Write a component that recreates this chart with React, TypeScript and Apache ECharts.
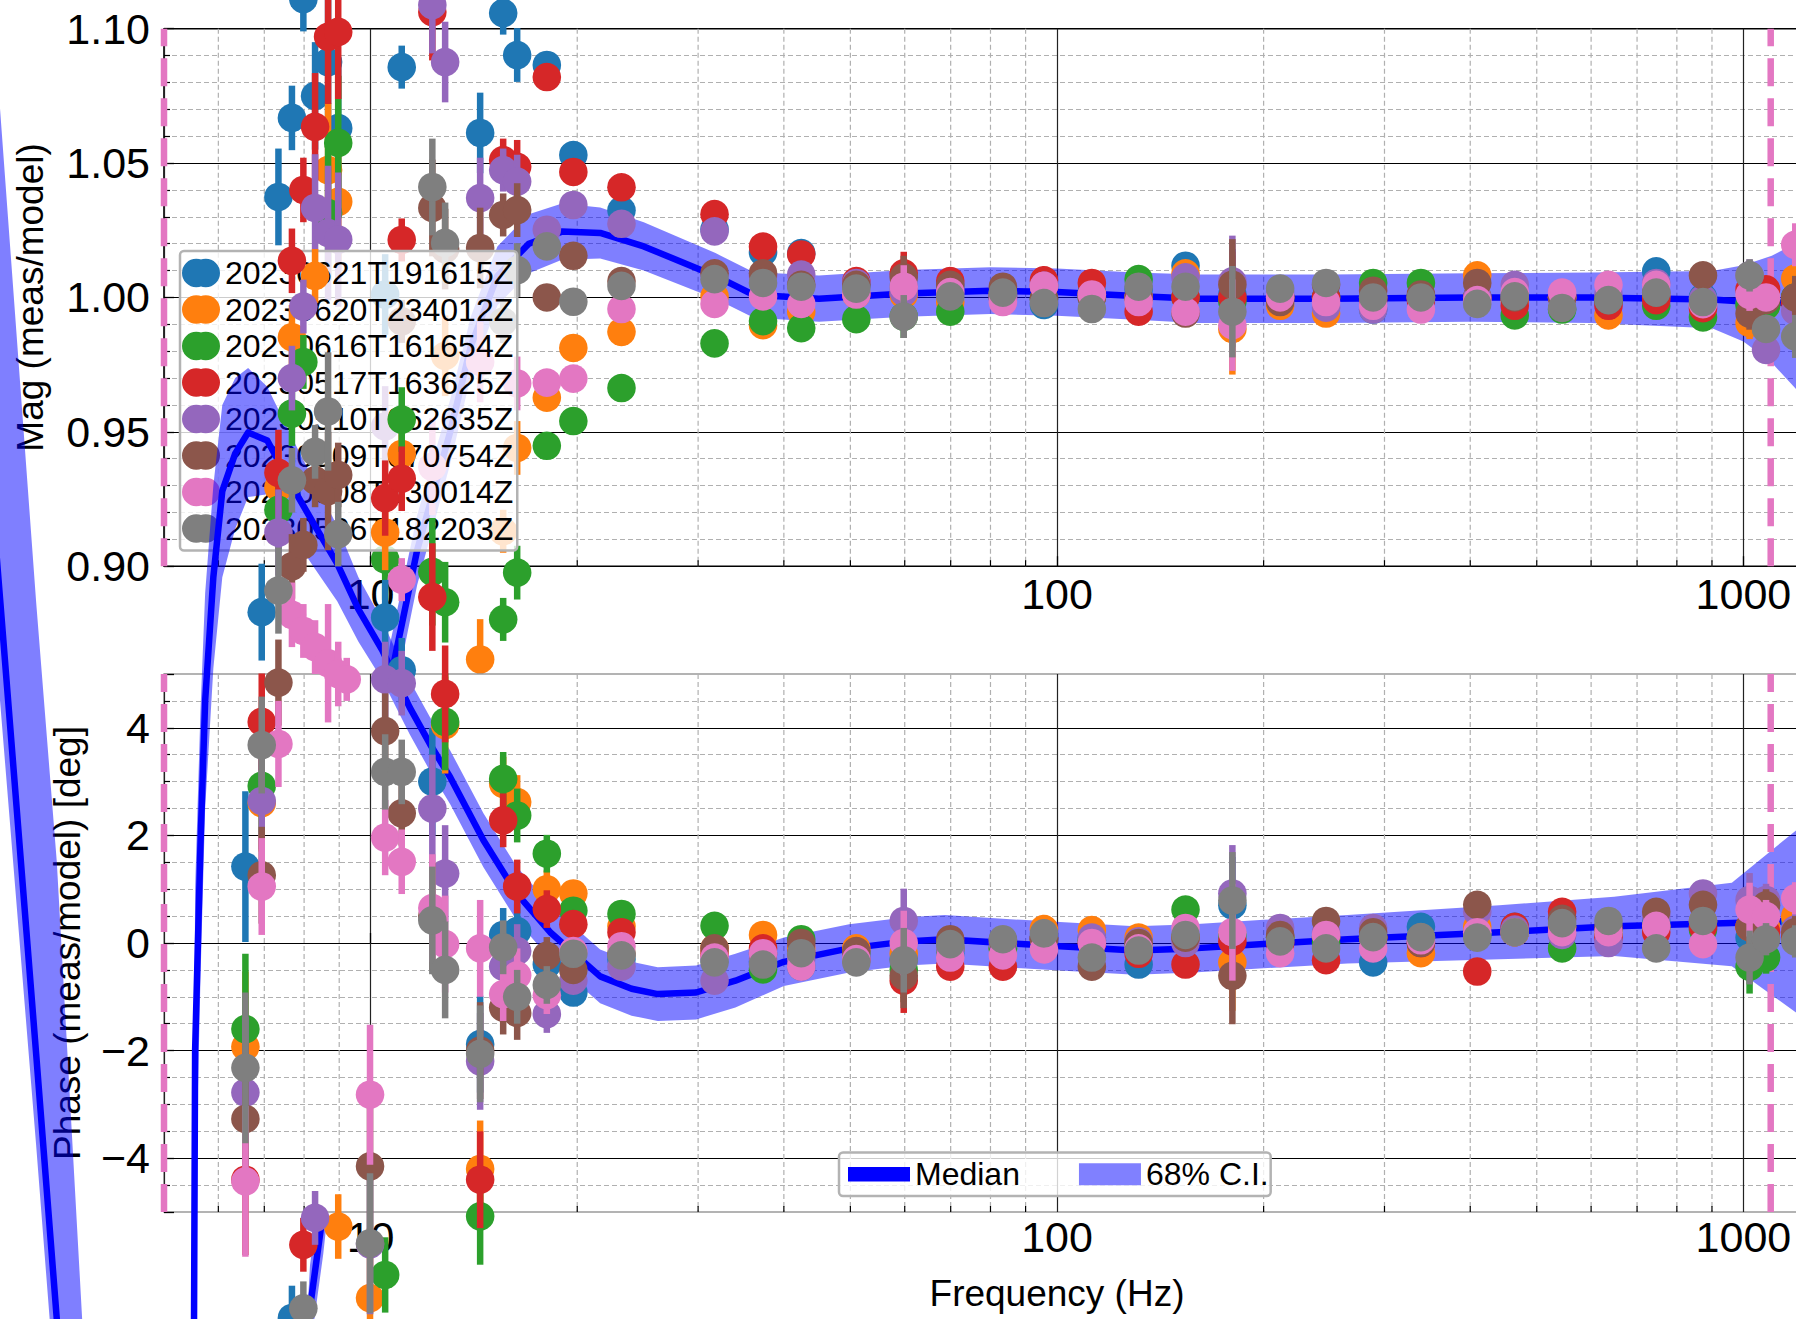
import React, { useEffect, useRef } from 'react';
import * as echarts from 'echarts';

// ---------- data ----------
const NAMES = [
  '20230621T191615Z', '20230620T234012Z', '20230616T161654Z', '20230517T163625Z',
  '20230510T062635Z', '20230509T070754Z', '20230508T130014Z', '20230506T182203Z',
];
const COLORS = ['#1f77b4', '#ff7f0e', '#2ca02c', '#d62728', '#9467bd', '#8c564b', '#e377c2', '#7f7f7f'];

// measurement frequencies (Hz)
const FREQ = [6.57, 6.94, 7.34, 7.68, 7.98, 8.30, 8.67, 8.97, 9.23, 9.98,
  10.5, 11.1, 12.3, 12.84, 14.44, 15.6, 16.35, 18.06, 19.74, 23.2,
  31.7, 37.3, 42.4, 51.0, 59.8, 69.9, 83.4, 95.7, 112.4, 131.5,
  153.9, 180.1, 211.4, 246.6, 288.8, 339, 409.5, 464.4, 544.4, 636,
  746.5, 873.3, 1021, 1079, 1190];

// magnitude (meas/model) per measurement
const MAG_0621 = [null, null, 1.0374, 1.0668, 1.111, 1.075, 1.0876, 1.063, null, null,
  1.0011, 1.0857, null, null, 1.0612, 1.1058, 1.0902, 1.0865, 1.053, 1.0324,
  1.0253, 1.0168, 1.0165, 1.0047, 1.004, 1.004, 1.0018, 0.9976, 1.002, 1.003,
  1.0118, 1.001, 1.0, 1.0, 0.9955, 1.0, 1.0, 1.0, 1.0, 0.999,
  1.0097, 1.0, 0.998, 0.999, 1.0];
const MAG_0620 = [null, null, null, null, null, null, 1.0474, 1.0356, null, null,
  null, null, null, 0.9783, 0.8653, 0.913, 0.944, 0.9627, 0.9812, 0.9872,
  1.0004, 0.9897, 0.9947, 1.0011, 1.001, 0.9983, 1.0011, 1.0047, 1.0011, 1.0,
  1.009, 0.9883, 0.9969, 0.994, 1.0, 1.0, 1.0082, 0.999, 1.0, 0.9933,
  1.0004, 0.997, 0.9905, 0.997, 1.007];
const MAG_0616 = [null, null, null, null, null, null, 1.0314, 1.0575, null, null,
  0.9025, null, null, 0.8866, null, 0.8802, 0.8976, 0.9448, 0.954, 0.9663,
  0.9829, 0.9912, 0.9886, 0.9919, 0.9929, 0.9947, 1.0, 1.0, 1.0, 1.0068,
  1.0, 0.9985, 1.0, 1.0, 1.0054, 1.0054, 1.0, 0.9933, 0.9955, 0.9985,
  0.9969, 0.9926, 0.997, 0.997, 1.0];
const MAG_0517 = [null, null, null, null, 1.04, 1.0635, 1.097, 1.0988, null, null,
  null, 1.0214, 1.1062, null, null, 1.0511, 1.0486, 1.082, 1.0467, 1.041,
  1.031, 1.0189, 1.016, 1.0061, 1.009, 1.0061, 1.0, 1.0068, 1.0054, 0.9947,
  1.0, 1.0, 1.0, 1.0, 0.999, 0.999, 1.0, 0.9969, 1.0, 0.9969,
  0.999, 0.996, 1.003, 1.003, 0.998];
const MAG_0510 = [null, null, null, null, null, 1.0333, 1.024, 1.0215, null, null,
  0.952, null, 1.1088, 1.0876, 1.037, 1.0474, 1.0431, 1.0252, 1.0344, 1.0274,
  1.0246, 1.008, 1.0085, 1.0054, 1.002, 1.003, 1.0, 1.0047, 1.0, 1.0,
  1.0075, 1.006, 1.002, 0.9962, 0.9955, 1.0, 1.0, 1.0047, 1.0, 1.0011,
  1.0054, 0.9995, 1.0082, 0.9805, 0.995];
const MAG_0509 = [null, null, null, null, null, null, null, null, null, null,
  null, 0.9911, 1.0333, 1.018, 1.0184, 1.0307, 1.0325, 1.0, 1.0155, 1.0061,
  1.009, 1.009, 1.0047, 1.0047, 1.0075, 1.0047, 1.004, 1.0, 1.0, 1.0,
  0.994, 1.0047, 0.9983, 1.0047, 1.0025, 1.0011, 1.0054, 1.0, 1.0, 0.999,
  1.0018, 1.0082, 0.994, 0.999, 1.0];
const MAG_0508 = [null, null, null, null, null, null, null, null, null, null,
  null, 0.895, 0.937, null, 0.976, null, 0.968, 0.9683, 0.9698, 0.9957,
  0.9976, 1.0004, 0.9976, 1.0011, 1.004, 1.002, 0.9983, 1.0047, 1.0011, 0.9983,
  0.9947, 0.9897, 1.0, 0.9983, 0.9969, 0.9955, 0.999, 1.002, 1.0018, 1.0047,
  1.0047, 0.9975, 1.001, 1.0, 1.0196];
const MAG_0506 = [null, null, null, null, null, null, null, null, null, null,
  null, null, 1.0411, 1.0203, null, 0.991, 1.0102, 1.019, 0.9984, 1.0043,
  1.0068, 1.0054, 1.004, 1.0033, 0.9929, 1.0004, 1.0018, 0.9983, 0.9957, 1.004,
  1.004, 0.9947, 1.0033, 1.0054, 1.0, 1.0, 0.9976, 1.0004, 0.9961, 0.999,
  1.0018, 0.9983, 1.0082, 0.9883, 0.9855];
const MAG_ERR = [0.018, 0.018, 0.018, 0.012, 0.012, 0.02, 0.025, 0.025, 0.02, 0.02,
  0.015, 0.008, 0.018, 0.015, 0.015, 0.008, 0.01, 0.004, 0.003, 0.002,
  0.002, 0.002, 0.002, 0.002, 0.008, 0.002, 0.002, 0.002, 0.002, 0.002,
  0.002, 0.017, 0.002, 0.002, 0.002, 0.002, 0.002, 0.002, 0.002, 0.002,
  0.002, 0.002, 0.006, 0.004, 0.008];

// phase (meas/model) [deg] per measurement
const PH_0621 = [1.42, 6.15, null, -6.97, null, null, null, null, null, null,
  6.05, 5.07, 3.0, null, -1.88, 0.15, 0.22, -0.4, -0.92, -0.3,
  -0.3, -0.35, -0.44, -0.3, -0.3, -0.2, -0.1, 0.1, 0.1, -0.4,
  0.1, 0.7, 0.1, 0.1, -0.36, 0.3, 0.2, 0.3, 0.3, 0.2,
  0.4, 0.3, 0.1, 0.1, 0.4];
const PH_0620 = [-1.93, 2.6, 8.47, 11.26, null, 12.4, null, -5.27, null, -6.6,
  7.63, 9.09, null, 4.05, -4.2, 2.96, 2.62, 1.0, 0.92, 0.31,
  -0.1, 0.15, -0.1, -0.1, -0.2, -0.1, -0.1, 0.28, 0.24, 0.1,
  0.1, -0.36, 0.1, 0.1, 0.1, -0.19, 0.3, 0.2, 0.3, 0.2,
  0.3, 0.4, 0.3, 0.3, 0.5];
const PH_0616 = [-1.6, 2.92, 8.05, 9.84, 10.8, null, null, null, null, null,
  -6.17, 9.73, 6.9, 4.11, -5.08, 3.05, 2.37, 1.66, 0.6, 0.54,
  0.32, -0.49, 0.07, -0.2, -0.5, -0.1, -0.1, 0.1, 0.05, 0.0,
  0.62, 0.15, 0.1, 0.0, 0.1, 0.1, 0.15, 0.2, -0.1, 0.2,
  0.3, 0.25, -0.44, -0.27, 0.2];
const PH_0517 = [-4.4, 4.11, 8.74, 12.68, -5.61, null, null, null, null, null,
  8.27, 8.63, 6.43, 4.63, -4.4, 2.28, 1.05, 0.63, 0.35, 0.2,
  -0.2, -0.1, -0.2, -0.3, -0.7, -0.44, -0.44, 0.1, 0.0, -0.2,
  -0.4, 0.03, 0.0, -0.32, 0.1, 0.0, -0.53, 0.3, 0.58, 0.1,
  0.2, 0.3, 0.3, 0.2, 0.1];
const PH_0510 = [-2.78, 2.64, 7.63, 10.5, 11.83, -5.11, null, null, null, -5.6,
  4.9, 4.83, 2.5, 1.29, -2.2, -0.44, -0.15, -1.32, -0.7, -0.44,
  -0.7, -0.3, -0.3, -0.25, 0.41, -0.1, 0.0, 0.1, 0.1, 0.03,
  0.0, 0.92, 0.28, 0.2, 0.28, 0.1, 0.58, 0.25, 0.15, 0.0,
  0.5, 0.92, 0.8, 0.8, 0.25];
const PH_0509 = [-3.27, 1.26, 4.84, 7.0, 7.4, 8.6, 8.4, 8.7, null, -4.15,
  3.94, 2.41, 0.5, null, -2.0, -1.2, -1.3, -0.24, -0.5, -0.2,
  -0.1, -0.2, 0.0, -0.15, -0.61, 0.07, 0.05, 0.1, -0.44, 0.0,
  0.1, -0.61, 0.15, 0.41, 0.2, 0.0, 0.71, 0.2, 0.45, 0.3,
  0.58, 0.71, 0.3, 0.7, 0.2];
const PH_0508 = [-4.43, 1.05, 3.7, 6.1, 5.8, 5.5, 5.2, 5.0, 4.9, -2.82,
  1.96, 1.51, 0.65, -0.02, -0.1, -0.95, -0.6, -0.97, -0.15, -0.06,
  -0.27, -0.19, -0.44, -0.3, 0.0, -0.27, -0.23, -0.1, 0.0, -0.1,
  0.28, 0.2, -0.19, 0.15, -0.1, 0.05, 0.2, 0.2, 0.2, 0.2,
  0.32, -0.02, 0.62, 0.5, 0.83];
const PH_0506 = [-2.32, 3.68, 6.55, 8.6, -6.79, 9.13, 9.88, 7.6, null, -5.58,
  3.18, 3.18, 0.42, -0.5, -2.06, -0.08, -1.0, -0.78, -0.2, -0.23,
  -0.36, -0.4, -0.19, -0.36, -0.32, -0.02, 0.07, 0.2, -0.27, -0.14,
  0.15, 0.79, 0.03, -0.1, 0.11, 0.11, 0.1, 0.2, 0.37, 0.41,
  -0.1, 0.41, -0.27, 0.07, 0.03];
const PH_ERR = [1.4, 0.9, 0.8, 0.6, 0.5, 0.5, 1.1, 0.6, 0.4, 1.3,
  0.7, 0.6, 1.0, 0.9, 0.9, 0.5, 0.5, 0.35, 0.2, 0.1,
  0.08, 0.08, 0.08, 0.08, 0.6, 0.08, 0.08, 0.08, 0.2, 0.08,
  0.08, 0.9, 0.08, 0.08, 0.08, 0.08, 0.15, 0.08, 0.08, 0.08,
  0.08, 0.08, 0.5, 0.3, 0.3];

// median & 68% C.I. of the magnitude model
const MAG_F = [7.5, 8.16, 8.53, 9.5, 10.67, 11.69, 13.06, 14.0, 15.3, 17.0,
  19.0, 21.6, 25.0, 31.8, 36.1, 45, 60, 80, 100, 130,
  160, 250, 400, 600, 900, 1000, 1100, 1195, 1400, 2000];
const MAG_MED = [0.45, 0.624, 0.66, 0.77, 0.857, 0.906, 0.950, 0.982, 1.008, 1.020,
  1.0245, 1.024, 1.019, 1.008, 1.001, 0.9995, 1.0015, 1.0025, 1.002, 1.0005,
  0.9995, 0.9995, 1.0, 1.0, 0.9992, 0.9985, 0.998, 0.998, 0.995, 0.985];
const MAG_HI = [0.47, 0.64, 0.676, 0.786, 0.871, 0.919, 0.962, 0.993, 1.019, 1.031,
  1.035, 1.0335, 1.028, 1.0165, 1.0095, 1.0082, 1.0102, 1.0112, 1.0108, 1.0093,
  1.0085, 1.0085, 1.009, 1.0093, 1.0098, 1.012, 1.0155, 1.0203, 1.03, 1.05];
const MAG_LO = [0.43, 0.608, 0.644, 0.754, 0.843, 0.893, 0.938, 0.971, 0.997, 1.009,
  1.014, 1.0145, 1.01, 0.9995, 0.9925, 0.991, 0.9928, 0.9938, 0.9932, 0.9917,
  0.9905, 0.9905, 0.991, 0.9905, 0.9885, 0.9836, 0.9757, 0.9657, 0.945, 0.9];

// median & 68% C.I. of the phase model
const PH_F = [2.7, 2.886, 3.256, 3.49, 3.8, 4.2, 5.0, 5.45, 5.53, 5.55,
  5.65, 5.74, 5.9, 6.08, 6.35, 6.63, 7.07, 7.7, 8.3, 8.94,
  9.6, 10.4, 11.4, 12.2, 13.06, 14.6, 16.3, 18.3, 21.6, 24,
  26.2, 29.8, 34, 40, 49.8, 60.4, 68.6, 88.7, 101, 130,
  158, 200, 265, 441, 648, 962, 1195, 1500, 2000];
const PH_MED = [11.0, 6.37, -2.06, -7.0, -12.8, -25, -25, -14, -7, -2,
  1.8, 4.5, 6.8, 8.4, 9.1, 9.49, 9.34, 8.47, 7.75, 7.05,
  6.2, 5.44, 4.38, 3.7, 3.08, 1.91, 0.93, 0.19, -0.62, -0.85,
  -0.95, -0.92, -0.7, -0.35, -0.1, 0.03, 0.07, -0.02, -0.06, -0.14,
  -0.1, -0.02, 0.07, 0.2, 0.31, 0.37, 0.41, 0.45, 0.5];
const PH_HI = [20.1, 15.47, 6.34, 1.5, -7.0, -20, -20, -10, -3, 1,
  4.3, 6.5, 8.5, 10.0, 10.5, 10.69, 10.34, 9.37, 8.55, 7.75,
  6.8, 5.99, 4.88, 4.2, 3.58, 2.41, 1.43, 0.69, -0.12, -0.35,
  -0.45, -0.42, -0.2, 0.1, 0.35, 0.48, 0.52, 0.43, 0.39, 0.31,
  0.35, 0.43, 0.52, 0.7, 0.86, 1.12, 2.1, 2.95, 4.5];
const PH_LO = [9.0, 4.47, -3.76, -8.7, -14.5, -28, -28, -17, -10, -5,
  -0.7, 2.5, 5.1, 6.8, 7.7, 8.29, 8.34, 7.57, 6.95, 6.35,
  5.6, 4.89, 3.88, 3.2, 2.58, 1.41, 0.43, -0.31, -1.12, -1.35,
  -1.45, -1.42, -1.2, -0.8, -0.55, -0.42, -0.38, -0.47, -0.51, -0.59,
  -0.55, -0.47, -0.38, -0.3, -0.24, -0.43, -1.3, -2.05, -3.5];

// vertical reference lines (Hz) and minor log grid positions
const PINK_LINES = [5, 1096];
const MINOR_F = [6, 7, 8, 9, 20, 30, 40, 50, 60, 70, 80, 90, 200, 300, 400, 500, 600, 700, 800, 900];

const MAG_SETS = [MAG_0621, MAG_0620, MAG_0616, MAG_0517, MAG_0510, MAG_0509, MAG_0508, MAG_0506];
const PH_SETS = [PH_0621, PH_0620, PH_0616, PH_0517, PH_0510, PH_0509, PH_0508, PH_0506];

// ---------- styling ----------
const FONT = "'Liberation Sans', Arial, Helvetica, sans-serif";
const BLUE = '#0000ff';
const BAND = 'rgba(0,0,255,0.5)';
const PINK = '#e377c2';
const ERR_ICON = 'path://M15,0A15,15 0 1,0 15,30A15,15 0 1,0 15,0ZM25,0A15,15 0 1,0 25,30A15,15 0 1,0 25,0Z';

function pointSeries(name: string, color: string, panel: number, vals: (number | null)[], errs: number[], z: number) {
  const data: number[][] = [];
  FREQ.forEach((f, i) => {
    const v = vals[i];
    if (v !== null && v !== undefined) data.push([f, v, errs[i]]);
  });
  return {
    type: 'custom', name, xAxisIndex: panel, yAxisIndex: panel, z, silent: true, clip: false,
    itemStyle: { color },
    dimensions: ['x', 'y', 'e'],
    encode: { x: 0, y: 1 },
    data,
    renderItem: (params: any, api: any) => {
      const f = api.value(0), v = api.value(1), e = api.value(2);
      const c = api.coord([f, v]);
      const t = api.coord([f, v + e]);
      const b = api.coord([f, v - e]);
      return {
        type: 'group',
        children: [
          { type: 'line', shape: { x1: c[0], y1: t[1], x2: c[0], y2: b[1] }, style: { stroke: color, lineWidth: 6.5 } },
          { type: 'circle', shape: { cx: c[0], cy: c[1], r: 14.3 }, style: { fill: color } },
        ],
      };
    },
  };
}

function bandSeries(panel: number, fs: number[], hi: number[], lo: number[], z: number) {
  return {
    type: 'custom', name: '68% C.I.', xAxisIndex: panel, yAxisIndex: panel, z, silent: true, clip: false,
    itemStyle: { color: '#8080ff' },
    encode: { x: 0, y: 1 },
    data: [[fs[0], hi[0]]],
    renderItem: (params: any, api: any) => {
      const pts: number[][] = [];
      for (let i = 0; i < fs.length; i++) pts.push(api.coord([fs[i], hi[i]]));
      for (let i = fs.length - 1; i >= 0; i--) pts.push(api.coord([fs[i], lo[i]]));
      return { type: 'polygon', shape: { points: pts }, style: { fill: BAND } };
    },
  };
}

function medianSeries(panel: number, fs: number[], ys: number[], z: number) {
  return {
    type: 'custom', name: 'Median', xAxisIndex: panel, yAxisIndex: panel, z, silent: true, clip: false,
    itemStyle: { color: BLUE },
    encode: { x: 0, y: 1 },
    data: [[fs[0], ys[0]]],
    renderItem: (params: any, api: any) => {
      const pts: number[][] = fs.map((f, i) => api.coord([f, ys[i]]));
      return { type: 'polyline', shape: { points: pts }, style: { stroke: BLUE, lineWidth: 6.5, fill: null, lineJoin: 'round' } };
    },
  };
}

function vlineSeries(panel: number, ymid: number, z: number) {
  return {
    type: 'custom', xAxisIndex: panel, yAxisIndex: panel, z, silent: true, clip: false,
    encode: { x: 0, y: 1 },
    data: PINK_LINES.map((f) => [f, ymid]),
    renderItem: (params: any, api: any) => {
      const cs = params.coordSys;
      const x = api.coord([api.value(0), ymid])[0];
      return { type: 'line', shape: { x1: x, y1: cs.y + cs.height, x2: x, y2: cs.y }, style: { stroke: PINK, lineWidth: 6.5, lineDash: [28, 12] } };
    },
  };
}

function minorGridSeries(panel: number, ymid: number, z: number) {
  return {
    type: 'custom', xAxisIndex: panel, yAxisIndex: panel, z, silent: true,
    encode: { x: 0, y: 1 },
    data: MINOR_F.map((f) => [f, ymid]),
    renderItem: (params: any, api: any) => {
      const cs = params.coordSys;
      const x = api.coord([api.value(0), ymid])[0];
      const bottom = cs.y + cs.height;
      return {
        type: 'group',
        children: [
          { type: 'line', shape: { x1: x, y1: cs.y, x2: x, y2: bottom }, style: { stroke: '#b0b0b0', lineWidth: 1.2, lineDash: [5, 3] } },
          { type: 'line', shape: { x1: x, y1: bottom, x2: x, y2: bottom - 6 }, style: { stroke: '#000', lineWidth: 1.2 } },
        ],
      };
    },
  };
}

const xLabel = (v: number) => {
  const l = Math.log10(v);
  return Math.abs(l - Math.round(l)) < 1e-6 ? String(Math.round(v)) : '';
};

function xAxisCfg(grid: number, z: number, withName: boolean) {
  return {
    type: 'log', logBase: 10, gridIndex: grid, min: 5, max: 2000, z,
    axisLine: { show: false },
    axisTick: { show: true, inside: true, length: 10, lineStyle: { color: '#000', width: 1.3 } },
    axisLabel: { formatter: xLabel, fontSize: 43, color: '#000', fontFamily: FONT, margin: withName ? 3 : 6, showMinLabel: false, showMaxLabel: false },
    splitLine: { show: true, lineStyle: { color: '#222', width: 1.2 } },
    name: withName ? 'Frequency (Hz)' : '',
    nameLocation: 'middle', nameGap: 63,
    nameTextStyle: { fontSize: 37, color: '#000', fontFamily: FONT },
  };
}

const option: any = {
  animation: false,
  backgroundColor: '#fff',
  textStyle: { fontFamily: FONT },
  grid: [
    { left: 164, top: 28.7, width: 1786, height: 537.5, show: true, backgroundColor: 'transparent', borderColor: '#000', borderWidth: 1.6, z: 0, outerBoundsMode: 'none' },
    { left: 164, top: 674, width: 1786, height: 538, show: true, backgroundColor: '#fff', borderColor: '#9a9a9a', borderWidth: 1.6, z: 7, outerBoundsMode: 'none' },
  ],
  xAxis: [xAxisCfg(0, 1, false), xAxisCfg(1, 8, true)],
  yAxis: [
    {
      type: 'value', gridIndex: 0, min: 0.9, max: 1.1, interval: 0.05, z: 1,
      name: 'Mag (meas/model)', nameLocation: 'middle', nameGap: 115, nameRotate: 90,
      nameTextStyle: { fontSize: 37, color: '#000', fontFamily: FONT },
      axisLine: { show: false },
      axisTick: { show: true, inside: true, length: 10, lineStyle: { color: '#000', width: 1.3 } },
      minorTick: { show: true, splitNumber: 5, length: 6, lineStyle: { color: '#000', width: 1.2 } },
      axisLabel: { formatter: (v: number) => v.toFixed(2), fontSize: 43, color: '#000', fontFamily: FONT, margin: 14 },
      splitLine: { show: true, lineStyle: { color: '#000', width: 1.2 } },
      minorSplitLine: { show: true, lineStyle: { color: '#b0b0b0', width: 1.2, type: [5, 3] } },
    },
    {
      type: 'value', gridIndex: 1, min: -5, max: 5, splitNumber: 5, z: 8,
      name: 'Phase (meas/model) [deg]', nameLocation: 'middle', nameGap: 78, nameRotate: 90,
      nameTextStyle: { fontSize: 37, color: '#000', fontFamily: FONT },
      axisLine: { show: false },
      axisTick: { show: true, inside: true, length: 10, lineStyle: { color: '#000', width: 1.3 } },
      minorTick: { show: true, splitNumber: 4, length: 6, lineStyle: { color: '#000', width: 1.2 } },
      axisLabel: {
        formatter: (v: number) => (Math.abs(v) > 4.5 ? '' : v < 0 ? '\u2212' + Math.abs(v) : String(v)),
        fontSize: 43, color: '#000', fontFamily: FONT, margin: 14, showMinLabel: false, showMaxLabel: false,
      },
      splitLine: { show: true, showMinLine: false, showMaxLine: false, lineStyle: { color: '#000', width: 1.2 } },
      minorSplitLine: { show: true, lineStyle: { color: '#b0b0b0', width: 1.2, type: [5, 3] } },
    },
  ],
  legend: [
    {
      z: 6, left: 180, top: 251, orient: 'vertical', selectedMode: false,
      backgroundColor: 'rgba(255,255,255,0.8)', borderColor: '#b3b3b3', borderWidth: 2.5, borderRadius: 4,
      padding: [6, 4, 6, 2], itemGap: 4.5, itemWidth: 38, itemHeight: 30,
      icon: ERR_ICON,
      itemStyle: { borderWidth: 0 },
      textStyle: { fontSize: 32, lineHeight: 32, color: '#000', fontFamily: FONT },
      data: NAMES.map((n, i) => ({ name: n, itemStyle: { color: COLORS[i] } })),
    },
    {
      z: 13, left: 839, top: 1152.5, orient: 'horizontal', selectedMode: false,
      backgroundColor: 'rgba(255,255,255,0.8)', borderColor: '#b3b3b3', borderWidth: 2.5, borderRadius: 4,
      padding: [5.75, 2, 5.75, 9], itemGap: 59, itemWidth: 62, itemHeight: 22,
      itemStyle: { borderWidth: 0 },
      lineStyle: { width: 0 },
      textStyle: { fontSize: 32, lineHeight: 32, color: '#000', fontFamily: FONT },
      data: [
        { name: 'Median', icon: 'path://M0,0h60v14h-60z', itemStyle: { color: BLUE } },
        { name: '68% C.I.', icon: 'rect', itemStyle: { color: '#8080ff' } },
      ],
    },
  ],
  series: [
    // top panel (magnitude)
    minorGridSeries(0, 1.0, 1),
    bandSeries(0, MAG_F, MAG_HI, MAG_LO, 2),
    medianSeries(0, MAG_F, MAG_MED, 3),
    vlineSeries(0, 1.0, 4),
    ...NAMES.map((n, i) => pointSeries(n, COLORS[i], 0, MAG_SETS[i], MAG_ERR, 5)),
    // bottom panel (phase)
    minorGridSeries(1, 0, 8),
    bandSeries(1, PH_F, PH_HI, PH_LO, 9),
    medianSeries(1, PH_F, PH_MED, 10),
    vlineSeries(1, 0, 11),
    ...NAMES.map((n, i) => pointSeries(n, COLORS[i], 1, PH_SETS[i], PH_ERR, 12)),
  ],
};

export default function App() {
  const ref = useRef<HTMLDivElement>(null);
  useEffect(() => {
    if (!ref.current) return;
    const chart = echarts.init(ref.current, null, { renderer: 'svg' });
    chart.setOption(option);
    return () => chart.dispose();
  }, []);
  return (
    <div style={{ position: 'fixed', left: 0, top: 0, width: 1796, height: 1319, overflow: 'hidden', background: '#fff' }}>
      <div ref={ref} style={{ width: 1960, height: 1319 }} />
    </div>
  );
}
